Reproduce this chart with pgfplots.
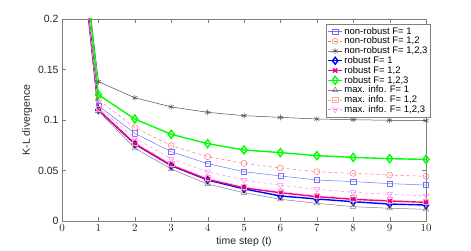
\documentclass[border=0pt]{standalone}
\usepackage{fontspec}
\setmainfont{Liberation Sans}
\usepackage{pgfplots}
\pgfplotsset{compat=1.18}
\definecolor{nrblue}{rgb}{0.45,0.45,1}
\definecolor{nrred}{rgb}{1,0.45,0.45}
\definecolor{nrgray}{rgb}{0.3,0.3,0.3}
\definecolor{migray}{rgb}{0.5,0.5,0.5}
\definecolor{mipink}{rgb}{1,0.65,0.65}
\definecolor{miviolet}{rgb}{1,0.5,1}
\definecolor{axgray}{rgb}{0.5,0.5,0.5}
\begin{document}
\begin{tikzpicture}
\begin{axis}[
  scale only axis, width=364pt, height=202pt,
  at={(0,0)}, anchor=south west,
  xmin=0, xmax=10, ymin=0, ymax=0.2,
  xtick={0,1,...,10},
  ytick={0,0.05,0.1,0.15,0.2},
  yticklabels={0,0.05,0.1,0.15,0.2},
  axis line style={axgray},
  tick style={axgray},
  major tick length=4pt,
  tick label style={font=\fontsize{10.5}{12}\selectfont, text=black!85},
  label style={font=\fontsize{10.5}{12}\selectfont, text=black!85},
  xlabel={time step (t)},
  ylabel={K-L divergence},
  xlabel style={yshift=2pt},
  ylabel style={yshift=-1pt},
  clip=true,
  legend cell align=left,
  legend style={at={(1.013,0.975)}, anchor=north east, draw=axgray, fill=white,
    font=\fontsize{9.5}{10.5}\selectfont, row sep=-1.6pt, inner sep=1.5pt,
    nodes={inner sep=1.5pt}},
  legend image code/.code={\draw[mark repeat=2,mark phase=2] plot coordinates {(0pt,0pt) (7pt,0pt) (14pt,0pt)};},
]
% non-robust F=1
\addplot[color=nrblue, line width=0.5pt, mark=square, mark size=2.6pt, mark options={solid}] coordinates {
(0,0.45)(1,0.114)(2,0.0868)(3,0.0686)(4,0.0568)(5,0.0488)(6,0.0446)(7,0.0406)(8,0.039)(9,0.037)(10,0.0356)};
\addlegendentry{non-robust F= 1}
% non-robust F=1,2
\addplot[color=nrred, line width=0.5pt, dashed, mark=o, mark size=3pt, mark options={solid}] coordinates {
(0,0.45)(1,0.120)(2,0.0924)(3,0.0746)(4,0.0637)(5,0.0571)(6,0.0525)(7,0.0488)(8,0.0472)(9,0.0455)(10,0.0442)};
\addlegendentry{non-robust F= 1,2}
% non-robust F=1,2,3
\addplot[color=nrgray, line width=0.5pt, mark=asterisk, mark size=3pt, mark options={solid}] coordinates {
(0,0.45)(1,0.138)(2,0.122)(3,0.113)(4,0.1076)(5,0.1043)(6,0.1026)(7,0.101)(8,0.1003)(9,0.0997)(10,0.0993)};
\addlegendentry{non-robust F= 1,2,3}
% robust F=1
\addplot[color=blue, line width=1.4pt, mark=diamond, mark size=3.5pt, mark options={solid}] coordinates {
(0,0.45)(1,0.110)(2,0.0762)(3,0.0548)(4,0.0406)(5,0.0318)(6,0.0248)(7,0.0218)(8,0.0191)(9,0.0168)(10,0.0158)};
\addlegendentry{robust F= 1}
% robust F=1,2
\addplot[color=magenta, line width=1.4pt, mark=x, mark size=3pt, mark options={solid}] coordinates {
(0,0.45)(1,0.110)(2,0.0765)(3,0.0552)(4,0.0412)(5,0.0328)(6,0.028)(7,0.0241)(8,0.0215)(9,0.0198)(10,0.0185)};
\addlegendentry{robust F= 1,2}
% robust F=1,2,3
\addplot[color=green, line width=1.4pt, mark=diamond, mark size=4pt, mark options={solid}] coordinates {
(0,0.48)(1,0.125)(2,0.101)(3,0.0858)(4,0.0766)(5,0.0703)(6,0.0677)(7,0.0647)(8,0.063)(9,0.0617)(10,0.061)};
\addlegendentry{robust F= 1,2,3}
% max info F=1
\addplot[color=migray, line width=0.5pt, mark=triangle, mark size=3.2pt, mark options={solid}] coordinates {
(0,0.45)(1,0.109)(2,0.072)(3,0.0515)(4,0.0366)(5,0.028)(6,0.0215)(7,0.0175)(8,0.0142)(9,0.0126)(10,0.0116)};
\addlegendentry{max. info. F= 1}
% max info F=1,2
\addplot[color=mipink, line width=0.5pt, dashed, mark=square, mark size=2.6pt, mark options={solid}] coordinates {
(0,0.45)(1,0.111)(2,0.078)(3,0.0565)(4,0.0425)(5,0.034)(6,0.0292)(7,0.0252)(8,0.0225)(9,0.0205)(10,0.0192)};
\addlegendentry{max. info. F= 1,2}
% max info F=1,2,3
\addplot[color=miviolet, line width=0.5pt, dashed, mark=triangle, mark size=3.2pt, mark options={solid, rotate=180}] coordinates {
(0,0.45)(1,0.112)(2,0.0825)(3,0.0614)(4,0.0488)(5,0.0406)(6,0.0353)(7,0.0314)(8,0.0284)(9,0.0264)(10,0.025)};
\addlegendentry{max. info. F= 1,2,3}
\end{axis}
\pgfresetboundingbox
\path (-62pt,-30pt) rectangle (409pt,221pt);
\end{tikzpicture}
\end{document}
